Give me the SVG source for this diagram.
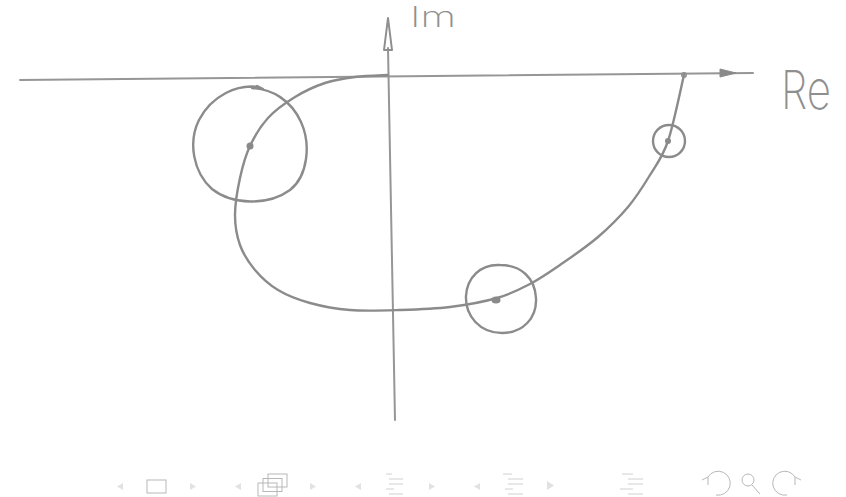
<svg xmlns="http://www.w3.org/2000/svg" width="846" height="497" viewBox="0 0 846 497">
<style>
.pen{fill:none;stroke:#8b8b8b;stroke-width:2.4;stroke-linecap:round;stroke-linejoin:round}
.axis{fill:none;stroke:#969696;stroke-width:2;stroke-linecap:round}
.dot{fill:#8a8a8a}
.hand{font-family:Inter,"DejaVu Sans",sans-serif;font-weight:200;fill:#8f8f8f}
.nav{fill:none;stroke:#b8b8b8;stroke-width:1}
.navf{fill:#e2e2e2}
.navl{stroke:#d0d0d0;stroke-width:1}
</style>
<rect width="846" height="497" fill="#ffffff"/>
<g id="axes">
  <path class="axis" d="M20,80 L753,73"/>
  <path d="M720,69 L736,73 L720,77 Z" fill="#8a8a8a" stroke="#8a8a8a" stroke-width="1"/>
  <path class="axis" d="M388,48 L395,420"/>
  <path d="M388,18 L392,50 L384,50 Z" fill="none" stroke="#8f8f8f" stroke-width="2" stroke-linejoin="round"/>
</g>
<g id="labels">
  <text class="hand" x="410" y="27" font-size="28" textLength="46" lengthAdjust="spacingAndGlyphs">Im</text>
  <text class="hand" x="781" y="109" font-size="54" textLength="50" lengthAdjust="spacingAndGlyphs">Re</text>
</g>
<g id="locus">
  <path class="pen" d="M684,75 C681.3,86 673.7,124.3 668,141 C662.3,157.7 656.7,164 650,175 C643.3,186 636.7,196.7 628,207 C619.3,217.3 609.3,227.3 598,237 C586.7,246.7 571.3,257.2 560,265 C548.7,272.8 540.5,278.5 530,284 C519.5,289.5 510.3,294.2 497,298 C483.7,301.8 466.2,305 450,307 C433.8,309 416.7,309.5 400,310 C383.3,310.5 365,311.2 350,310 C335,308.8 322,306.3 310,303 C298,299.7 287.2,295.5 278,290 C268.8,284.5 261.3,277.5 255,270 C248.7,262.5 243.3,254.2 240,245 C236.7,235.8 235,226.2 235,215 C235,203.8 237.5,189.5 240,178 C242.5,166.5 245.3,156 250,146 C254.7,136 260.5,126.2 268,118 C275.5,109.8 285.5,102.8 295,97 C304.5,91.2 315,86.3 325,83 C335,79.7 344.5,78.3 355,77 C365.5,75.7 382.5,75.3 388,75"/>
  <circle cx="684" cy="75" r="2.2" fill="none" stroke="#8d8d8d" stroke-width="1.5"/>
</g>
<g id="circle-left">
  <path class="pen" d="M258,87 C238,84 212,95 199,120 C188,142 193,172 212,189 C232,205 268,206 290,190 C308,176 311,144 301,122 C291,100 272,89 252,88 M257,86 L263,89"/>
  <ellipse class="dot" cx="250" cy="146" rx="3.5" ry="3.5"/>
</g>
<g id="circle-mid">
  <path class="pen" d="M500,265 C480,264 467,278 466,296 C465,316 480,333 502,333 C523,333 537,318 536,298 C535,278 521,265 500,265 Z"/>
  <ellipse class="dot" cx="496" cy="300" rx="4.5" ry="3.5"/>
</g>
<g id="circle-right">
  <circle class="pen" cx="669" cy="141" r="16"/>
  <ellipse class="dot" cx="668" cy="141" rx="3" ry="3"/>
</g>
<g id="navbar">
  <path class="navf" d="M123,483 L117,486.5 L123,490 Z"/>
  <rect class="nav" x="147" y="480" width="19" height="13"/>
  <path class="navf" d="M190,483 L196,486.5 L190,490 Z"/>
  <path class="navf" d="M241,483 L235,486.5 L241,490 Z"/>
  <rect class="nav" x="268" y="474" width="19" height="13" fill="#fff"/>
  <rect class="nav" x="263" y="478.5" width="19" height="13" fill="#fff"/>
  <rect class="nav" x="258" y="483" width="19" height="13" fill="#fff"/>
  <path class="navf" d="M310,483 L316,486.5 L310,490 Z"/>
  <path class="navf" d="M361,483 L355,486.5 L361,490 Z"/>
  <g class="navl">
    <line x1="386" y1="474" x2="392" y2="474"/>
    <line x1="389" y1="479" x2="403" y2="479"/>
    <line x1="389" y1="484" x2="403" y2="484"/>
    <line x1="386" y1="489" x2="394" y2="489"/>
    <line x1="389" y1="494" x2="403" y2="494"/>
  </g>
  <path class="navf" d="M429,483 L435,486.5 L429,490 Z"/>
  <path class="navf" d="M480,483 L474,486.5 L480,490 Z"/>
  <g class="navl">
    <line x1="503" y1="474" x2="512" y2="474"/>
    <line x1="508" y1="479" x2="523" y2="479"/>
    <line x1="508" y1="484" x2="523" y2="484"/>
    <line x1="505" y1="489" x2="513" y2="489"/>
    <line x1="508" y1="494" x2="523" y2="494"/>
  </g>
  <path class="navf" d="M547,481 L554,485.5 L547,490 Z"/>
  <g class="navl">
    <line x1="622" y1="474" x2="633" y2="474"/>
    <line x1="628" y1="479" x2="643" y2="479"/>
    <line x1="628" y1="484" x2="643" y2="484"/>
    <line x1="620" y1="489" x2="633" y2="489"/>
    <line x1="628" y1="494" x2="643" y2="494"/>
  </g>
  <path class="nav" d="M708,477 A12,12 0 1 1 716,495"/>
  <path class="nav" d="M702,480 L708,477 L708,485"/>
  <circle class="nav" cx="748" cy="480" r="6"/>
  <line class="nav" x1="752" y1="485" x2="760" y2="494"/>
  <path class="nav" d="M795,477 A12,12 0 1 0 787,495"/>
  <path class="nav" d="M801,480 L795,477 L795,485"/>
</g>
</svg>
